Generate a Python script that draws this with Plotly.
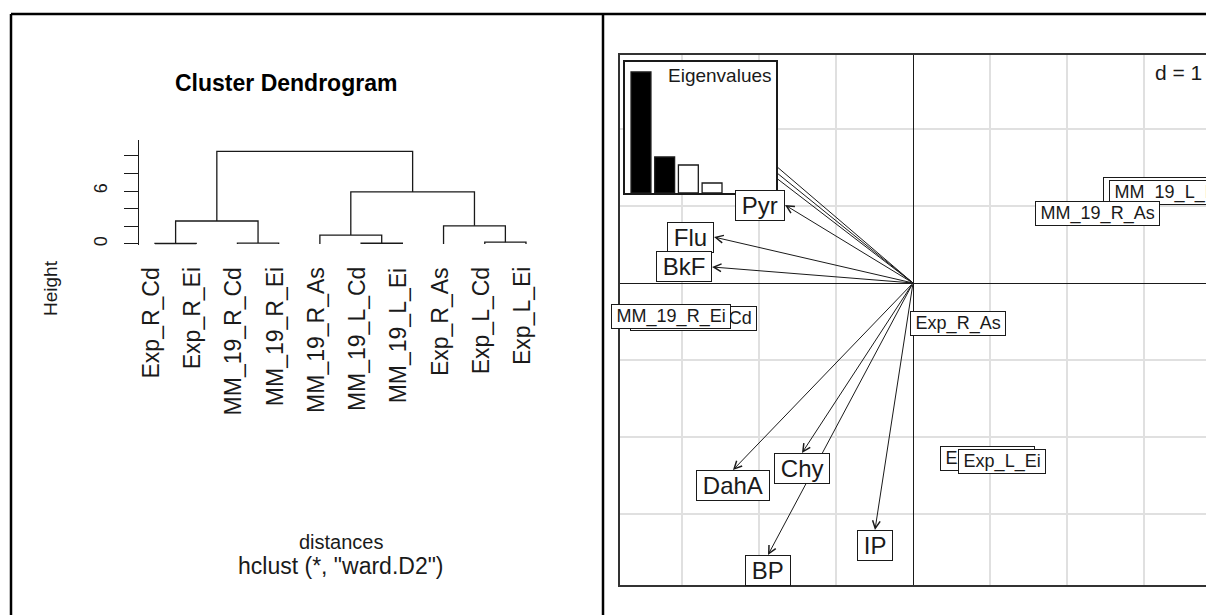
import plotly.graph_objects as go

# ---------------- data ----------------
leaf_labels = ["Exp_R_Cd", "Exp_R_Ei", "MM_19_R_Cd", "MM_19_R_Ei", "MM_19_R_As",
               "MM_19_L_Cd", "MM_19_L_Ei", "Exp_R_As", "Exp_L_Cd", "Exp_L_Ei"]
# hclust-style merge table (negative = leaf index, positive = earlier merge row)
merge_left = [-1, -3, -6, -9, -5, -8, 1, 5, 7]
merge_right = [-2, -4, -7, -10, 3, 4, 2, 6, 8]
merge_height = [0.05, 0.1, 0.08, 0.2, 1.0, 2.05, 2.6, 5.9, 10.5]
height_ticks = [0, 2, 4, 6, 8, 10]
height_ticklabels = ["0", "", "", "6", "", ""]

eig_values = [6.05, 1.8, 1.4, 0.5]
eig_kept = 2

var_names = ["Pyr", "Flu", "BkF", "DahA", "Chy", "BP", "IP"]
var_x = [-1.662, -2.584, -2.610, -2.338, -1.442, -1.883, -0.494]
var_y = [1.013, 0.597, 0.208, -2.429, -2.208, -3.532, -3.208]
hidden_var_x = [-2.2, -2.2, -2.2]
hidden_var_y = [1.88, 1.78, 1.69]

sample_names = ["MM_19_R_Cd", "MM_19_R_Ei", "MM_19_L_Cd", "MM_19_L_Ei",
                "Exp_L_Cd", "Exp_L_Ei", "Exp_R_As", "MM_19_R_As"]
sample_x = [-2.857, -3.143, 3.273, 3.299, 0.961, 1.156, 0.584, 2.390]
sample_y = [-0.455, -0.429, 1.208, 1.169, -2.273, -2.312, -0.532, 0.909]

# ---------------- layout helpers ----------------
W, H = 1206, 615
def px(x):
    return x / W
def py(y):
    return 1 - y / H

FONT = "Liberation Sans, Arial, Helvetica, sans-serif"
INK = "#1a1a1a"
PAD = "\u2009"  # thin space: horizontal padding inside label boxes

fig = go.Figure()

# ---------------- dendrogram ----------------
node_x, node_h = [], []
def child_pos(c):
    if c < 0:
        return float(-c), 0.0
    return node_x[c - 1], node_h[c - 1]

seg_x, seg_y = [], []
for l, r, h in zip(merge_left, merge_right, merge_height):
    lx, lh = child_pos(l)
    rx, rh = child_pos(r)
    seg_x += [lx, lx, rx, rx, None]
    seg_y += [lh, h, h, rh, None]
    node_x.append((lx + rx) / 2)
    node_h.append(h)

fig.add_trace(go.Scatter(x=seg_x, y=seg_y, mode="lines",
                         line=dict(color=INK, width=1.3),
                         xaxis="x", yaxis="y", hoverinfo="skip", showlegend=False))

for i, lab in enumerate(leaf_labels):
    fig.add_annotation(x=i + 1, y=py(265), xref="x", yref="paper", text=lab,
                       showarrow=False, textangle=-90, xanchor="center", yanchor="top",
                       xshift=-4, font=dict(family=FONT, size=23, color=INK))

# ---------------- biplot ----------------
for hx, hy in zip(hidden_var_x, hidden_var_y):
    fig.add_trace(go.Scatter(x=[0, hx], y=[0, hy], mode="lines",
                             line=dict(color=INK, width=1),
                             xaxis="x2", yaxis="y2", hoverinfo="skip", showlegend=False))

fig.add_trace(go.Scatter(x=sample_x, y=sample_y, mode="markers",
                         marker=dict(size=1, color="rgba(0,0,0,0)"),
                         xaxis="x2", yaxis="y2", hoverinfo="skip", showlegend=False))

for name, sx, sy in zip(sample_names, sample_x, sample_y):
    fig.add_annotation(x=sx, y=sy, xref="x2", yref="y2", text=PAD + name + PAD,
                       showarrow=False, xanchor="center", yanchor="middle",
                       bgcolor="white", bordercolor=INK, borderwidth=1, borderpad=1,
                       font=dict(family=FONT, size=18, color=INK))

for name, vx, vy in zip(var_names, var_x, var_y):
    fig.add_annotation(x=vx, y=vy, ax=0, ay=0, xref="x2", yref="y2",
                       axref="x2", ayref="y2", text="", showarrow=True,
                       arrowhead=5, arrowsize=1.5, arrowwidth=1, arrowcolor=INK,
                       standoff=0, startstandoff=0)
for name, vx, vy in zip(var_names, var_x, var_y):
    if abs(vx) > abs(vy):
        xa, ya = ("right" if vx < 0 else "left"), "middle"
    else:
        xa, ya = "center", ("top" if vy < 0 else "bottom")
    fig.add_annotation(x=vx, y=vy, xref="x2", yref="y2", text=PAD + name + PAD,
                       showarrow=False, xanchor=xa, yanchor=ya,
                       bgcolor="white", bordercolor=INK, borderwidth=1, borderpad=1,
                       font=dict(family=FONT, size=24, color=INK))

# ---------------- eigenvalue inset ----------------
fig.add_trace(go.Bar(x=list(range(1, len(eig_values) + 1)), y=eig_values, width=0.84,
                     marker=dict(color=["black" if i < eig_kept else "white"
                                        for i in range(len(eig_values))],
                                 line=dict(color=INK, width=1.3)),
                     xaxis="x3", yaxis="y3", hoverinfo="skip", showlegend=False))
fig.add_annotation(x=0.985, y=0.995, xref="x3 domain", yref="y3 domain",
                   text="Eigenvalues", showarrow=False, xanchor="right", yanchor="top",
                   font=dict(family=FONT, size=19, color=INK))

fig.add_annotation(x=px(1204), y=py(72), xref="paper", yref="paper", text="d = 1",
                   showarrow=False, xanchor="right", yanchor="middle", bgcolor="white",
                   font=dict(family=FONT, size=21, color=INK))

# ---------------- left panel texts ----------------
fig.add_annotation(x=px(286), y=py(83), xref="paper", yref="paper",
                   text="<b>Cluster Dendrogram</b>", showarrow=False,
                   xanchor="center", yanchor="middle",
                   font=dict(family=FONT, size=23, color="black"))
fig.add_annotation(x=px(50), y=py(288), xref="paper", yref="paper", text="Height",
                   showarrow=False, textangle=-90, xanchor="center", yanchor="middle",
                   font=dict(family=FONT, size=19, color=INK))
fig.add_annotation(x=px(341), y=py(542), xref="paper", yref="paper", text="distances",
                   showarrow=False, xanchor="center", yanchor="middle",
                   font=dict(family=FONT, size=20, color=INK))
fig.add_annotation(x=px(341), y=py(566), xref="paper", yref="paper",
                   text='hclust (*, "ward.D2")', showarrow=False,
                   xanchor="center", yanchor="middle",
                   font=dict(family=FONT, size=23, color=INK))

# ---------------- outer cell borders ----------------
for x0, y0, x1, y1 in [(11, 14, W + 5, 14), (11, 14, 11, H + 5), (603, 14, 603, H + 5)]:
    fig.add_shape(type="line", xref="paper", yref="paper",
                  x0=px(x0), y0=py(y0), x1=px(x1), y1=py(y1),
                  line=dict(color="black", width=2.5))

fig.update_layout(
    width=W, height=H, margin=dict(l=0, r=0, t=0, b=0),
    paper_bgcolor="white", plot_bgcolor="#ffffff", showlegend=False,
    xaxis=dict(domain=[px(139), px(560)], range=[0.612, 10.825], visible=False),
    yaxis=dict(domain=[py(245), py(140)], range=[-0.12, 11.78],
               tickvals=height_ticks, ticktext=height_ticklabels, tickangle=-90,
               ticks="outside", ticklen=14, tickwidth=1.3, tickcolor=INK,
               ticklabelstandoff=10,
               showline=True, linecolor=INK, linewidth=1.3,
               showgrid=False, zeroline=False,
               tickfont=dict(family=FONT, size=18, color=INK)),
    xaxis2=dict(domain=[px(620), 1.0], range=[-3.805, 3.805], anchor="y2",
                dtick=1, tick0=0, showgrid=True, gridcolor="#e0e0e0", gridwidth=1.5,
                zeroline=True, zerolinecolor=INK, zerolinewidth=1.3,
                showticklabels=False, ticks="", showline=True, mirror=True,
                linecolor="#333333", linewidth=1.5),
    yaxis2=dict(domain=[py(585), py(55)], range=[-3.922, 2.961], anchor="x2",
                dtick=1, tick0=0, showgrid=True, gridcolor="#e0e0e0", gridwidth=1.5,
                zeroline=True, zerolinecolor=INK, zerolinewidth=1.3,
                showticklabels=False, ticks="", showline=True, mirror=False,
                linecolor="#333333", linewidth=1.5),
    xaxis3=dict(domain=[px(625), px(776)], range=[0.325, 6.7], anchor="y3",
                showgrid=False, zeroline=False, showticklabels=False, ticks="",
                showline=True, mirror=True, linecolor=INK, linewidth=1.5),
    yaxis3=dict(domain=[py(193), py(62)], range=[0, 6.55], anchor="x3",
                showgrid=False, zeroline=False, showticklabels=False, ticks="",
                showline=True, mirror=True, linecolor=INK, linewidth=1.5),
)

fig.write_html("out.html", config={"displayModeBar": False},
               post_script="document.body.style.margin='0px';")
